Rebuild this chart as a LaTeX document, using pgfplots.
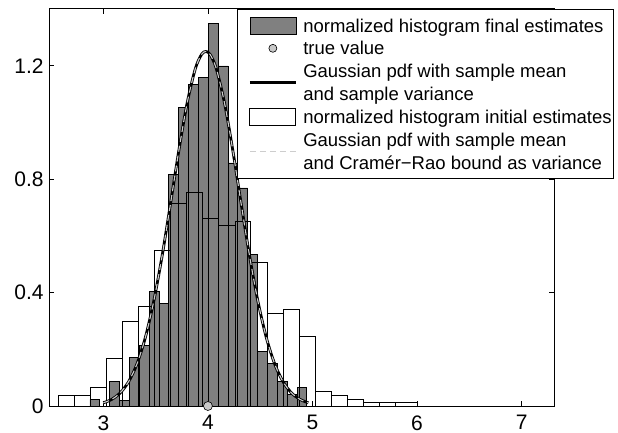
\documentclass[border=0pt]{standalone}
\usepackage{fontspec}
\setmainfont{Liberation Sans}
\usepackage{pgfplots}
\usepackage{pgfplotstable}
\pgfplotsset{compat=1.18}
\definecolor{histgray}{RGB}{128,128,128}
\definecolor{ltgray}{RGB}{205,205,205}
\definecolor{dotgray}{RGB}{200,200,200}
\newcommand{\lstrut}{\rule[-6.9bp]{0pt}{23bp}}

\pgfplotstableread{
x y
2.872 0.023
2.966 0.000
3.061 0.086
3.155 0.021
3.249 0.172
3.343 0.215
3.438 0.404
3.532 0.363
3.626 0.816
3.720 1.052
3.815 1.134
3.909 1.158
4.003 1.350
4.098 1.199
4.192 0.857
4.286 0.769
4.380 0.534
4.475 0.192
4.569 0.151
4.663 0.086
4.757 0.042
4.852 0.065
4.946 0.000
}\finalhist

\pgfplotstableread{
x y
2.568 0.038
2.722 0.038
2.875 0.065
3.029 0.168
3.182 0.299
3.336 0.352
3.490 0.548
3.643 0.716
3.797 0.755
3.950 0.663
4.104 0.637
4.258 0.651
4.411 0.508
4.565 0.325
4.718 0.339
4.872 0.247
5.026 0.050
5.179 0.038
5.333 0.025
5.486 0.013
5.640 0.013
5.794 0.014
6.000 0.000
}\inithist

\pgfplotstableread{
x y
3.00 0.0112
3.08 0.0234
3.16 0.0459
3.24 0.0848
3.32 0.1470
3.40 0.2394
3.48 0.3660
3.56 0.5254
3.64 0.7084
3.72 0.8967
3.80 1.0660
3.88 1.1900
3.94 1.2402
3.98 1.2500
4.02 1.2402
4.08 1.1900
4.16 1.0660
4.24 0.8967
4.32 0.7084
4.40 0.5254
4.48 0.3660
4.56 0.2394
4.64 0.1470
4.72 0.0848
4.80 0.0459
4.88 0.0234
4.96 0.0112
}\gausssample

\pgfplotstableread{
x y
3.00 0.0112
3.08 0.0234
3.16 0.0459
3.24 0.0848
3.32 0.1470
3.40 0.2394
3.48 0.3660
3.56 0.5254
3.64 0.7084
3.72 0.8967
3.80 1.0660
3.88 1.1900
3.94 1.2402
3.98 1.2500
4.02 1.2402
4.08 1.1900
4.16 1.0660
4.24 0.8967
4.32 0.7084
4.40 0.5254
4.48 0.3660
4.56 0.2394
4.64 0.1470
4.72 0.0848
4.80 0.0459
4.88 0.0234
4.96 0.0112
}\gausscrb

\pgfplotstableread{
x y
4 0
}\truevalue

\begin{document}
\fontsize{18.5bp}{23bp}\selectfont
\begin{tikzpicture}
\path[use as bounding box] (0,0) rectangle (618bp,433bp);
\begin{axis}[
  at={(49bp,27bp)}, anchor=south west,
  width=505bp, height=397bp, scale only axis,
  xmin=2.48, xmax=7.31, ymin=0, ymax=1.4,
  xtick={3,4,5,6,7}, ytick={0,0.4,0.8,1.2},
  minor tick num=0,
  tick align=inside, major tick length=5bp,
  /pgf/number format/assume math mode=true,
  tick label style={font=\fontsize{21bp}{24bp}\selectfont},
  xticklabel style={yshift=-3bp},
  yticklabel style={xshift=1bp},
  axis line style={line width=1bp},
  every tick/.style={black, line width=0.8bp},
  legend cell align=left,
  legend style={at={(0.373,1)}, anchor=north west,
    draw=black, line width=1bp, fill=white,
    font=\fontsize{18.5bp}{23bp}\selectfont,
    cells={align=left},
    inner xsep=2bp, inner ysep=6.5bp,
    row sep=4bp, column sep=6bp,
    nodes={inner sep=0bp}},
]
% drawn plots (legend handled below)
\addplot[ybar interval, fill=histgray, draw=black, line width=0.7bp, forget plot] table[x=x,y=y] {\finalhist};
\addplot[ybar interval, fill=none, draw=black, line width=0.8bp, forget plot] table[x=x,y=y] {\inithist};
\addplot[black, line width=2.8bp, smooth, forget plot] table[x=x,y=y] {\gausssample};
\addplot[ltgray, line width=1.1bp, dash pattern=on 6bp off 4bp, smooth, forget plot] table[x=x,y=y] {\gausscrb};
\addplot[only marks, mark=*, mark size=4.5bp, mark options={fill=dotgray, draw=black, line width=0.6bp}, forget plot] table[x=x,y=y] {\truevalue};

% legend
\addlegendimage{legend image code/.code={\path[draw=none] (0bp,0bp) -- (56bp,0bp); \draw[fill=histgray, draw=black, line width=0.7bp, solid] (10bp,-8.5bp) rectangle (56bp,8.5bp);}}
\addlegendentry{\lstrut normalized histogram final estimates}
\addlegendimage{legend image code/.code={\path[draw=none] (0bp,0bp) -- (56bp,0bp); \draw[fill=dotgray, draw=black, line width=0.6bp, solid] (33bp,0bp) circle (4bp);}}
\addlegendentry{\lstrut true value}
\addlegendimage{legend image code/.code={\path[draw=none] (0bp,-12bp) rectangle (56bp,12bp); \draw[black, line width=2.8bp, solid] (10bp,0bp) -- (56bp,0bp);}}
\addlegendentry{\lstrut Gaussian pdf with sample mean\\\lstrut and sample variance}
\addlegendimage{legend image code/.code={\path[draw=none] (0bp,0bp) -- (56bp,0bp); \draw[fill=white, draw=black, line width=0.8bp, solid] (10bp,-8.5bp) rectangle (56bp,8.5bp);}}
\addlegendentry{\lstrut normalized histogram initial estimates}
\addlegendimage{legend image code/.code={\path[draw=none] (0bp,-12bp) rectangle (56bp,12bp); \draw[ltgray, line width=1.1bp, dash pattern=on 6bp off 4bp] (10bp,0bp) -- (56bp,0bp);}}
\addlegendentry{\lstrut Gaussian pdf with sample mean\\\lstrut and Cramér−Rao bound as variance}
\end{axis}
\end{tikzpicture}
\end{document}
